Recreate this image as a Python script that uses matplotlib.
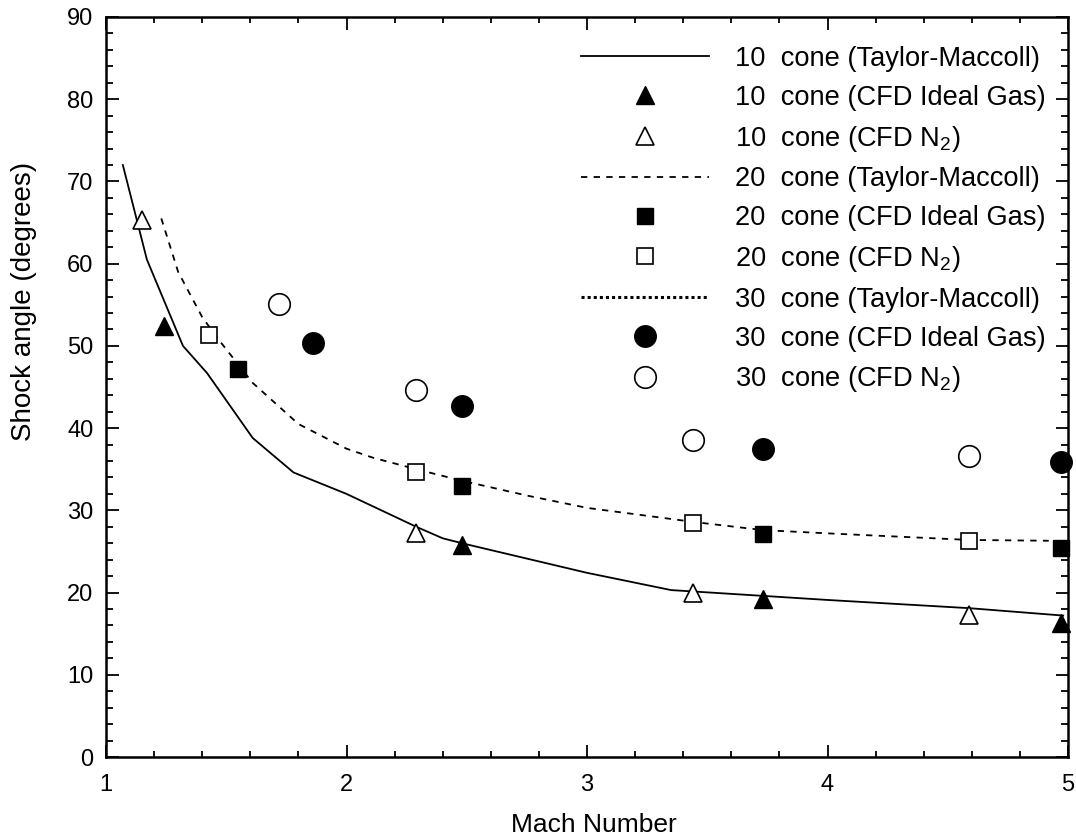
import matplotlib
matplotlib.use("Agg")
import matplotlib.pyplot as plt
from matplotlib.ticker import MultipleLocator

plt.rcParams['font.family'] = ['Liberation Sans', 'DejaVu Sans']
plt.rcParams['mathtext.fontset'] = 'custom'
plt.rcParams['mathtext.rm'] = 'Liberation Sans'
plt.rcParams['mathtext.it'] = 'Liberation Sans'

# Taylor-Maccoll curves
mach_tm10 = [1.07, 1.17, 1.32, 1.42, 1.61, 1.78, 2.0, 2.29, 2.40, 2.48, 3.0, 3.35, 3.73, 4.0, 4.59, 4.98]
theta_tm10 = [72.0, 60.5, 50.0, 46.7, 38.8, 34.6, 32.0, 28.0, 26.6, 26.0, 22.4, 20.3, 19.6, 19.1, 18.1, 17.2]
mach_tm20 = [1.23, 1.30, 1.40, 1.47, 1.61, 1.80, 2.0, 2.11, 2.29, 2.48, 2.75, 3.0, 3.44, 3.73, 4.0, 4.59, 4.92]
theta_tm20 = [65.5, 59.0, 53.5, 50.7, 45.5, 40.5, 37.5, 36.4, 35.0, 33.6, 31.8, 30.3, 28.6, 27.6, 27.2, 26.4, 26.3]
mach_tm30 = []
theta_tm30 = []

# CFD results
mach_ideal = [1.24, 2.48, 3.73, 4.97]
mach_n2 = [1.15, 2.29, 3.44, 4.59]
mach_sq_ideal = [1.55, 2.48, 3.73, 4.97]
mach_sq_n2 = [1.43, 2.29, 3.44, 4.59]
mach_c_ideal = [1.86, 2.48, 3.73, 4.97]
mach_c_n2 = [1.72, 2.29, 3.44, 4.59]
theta10_ideal = [52.4, 25.8, 19.2, 16.3]
theta10_n2 = [65.3, 27.3, 20.0, 17.3]
theta20_ideal = [47.2, 33.0, 27.1, 25.4]
theta20_n2 = [51.3, 34.7, 28.4, 26.3]
theta30_ideal = [50.3, 42.7, 37.5, 35.9]
theta30_n2 = [55.1, 44.6, 38.5, 36.6]

labels = [
    "10  cone (Taylor-Maccoll)",
    "10  cone (CFD Ideal Gas)",
    "10  cone (CFD N$_2$)",
    "20  cone (Taylor-Maccoll)",
    "20  cone (CFD Ideal Gas)",
    "20  cone (CFD N$_2$)",
    "30  cone (Taylor-Maccoll)",
    "30  cone (CFD Ideal Gas)",
    "30  cone (CFD N$_2$)",
]

fig = plt.figure(figsize=(10.76, 8.40), dpi=100)
ax = fig.add_axes([106/1076, 1-757/840, (1068-106)/1076, (757-17)/840])

k = dict(clip_on=False, zorder=3, linestyle='none')
ax.plot(mach_tm10, theta_tm10, '-', color='black', lw=1.3, label=labels[0])
ax.plot(mach_ideal, theta10_ideal, marker='^', ms=12.5, mfc='black', mec='black', label=labels[1], **k)
ax.plot(mach_n2, theta10_n2, marker='^', ms=12.5, mfc='white', mec='black', mew=1.2, label=labels[2], **k)
ax.plot(mach_tm20, theta_tm20, color='black', lw=1.3, linestyle=(0, (3.5, 3.5)), label=labels[3])
ax.plot(mach_sq_ideal, theta20_ideal, marker='s', ms=11.5, mfc='black', mec='black', label=labels[4], **k)
ax.plot(mach_sq_n2, theta20_n2, marker='s', ms=11.5, mfc='white', mec='black', mew=1.2, label=labels[5], **k)
ax.plot(mach_tm30, theta_tm30, color='black', lw=2.2, linestyle=(0, (1, 1)), label=labels[6])
ax.plot(mach_c_ideal, theta30_ideal, marker='o', ms=15.5, mfc='black', mec='black', label=labels[7], **k)
ax.plot(mach_c_n2, theta30_n2, marker='o', ms=15.5, mfc='white', mec='black', mew=1.2, label=labels[8], **k)

ax.set_xlim(1, 5)
ax.set_ylim(0, 90)
ax.xaxis.set_major_locator(MultipleLocator(1))
ax.xaxis.set_minor_locator(MultipleLocator(0.2))
ax.yaxis.set_major_locator(MultipleLocator(10))
ax.yaxis.set_minor_locator(MultipleLocator(2))
ax.tick_params(which='both', direction='in', top=True, right=True, width=1.3)
ax.tick_params(which='major', length=9, labelsize=17)
ax.tick_params(axis='y', which='minor', length=5)
ax.tick_params(axis='x', which='minor', length=4)
ax.tick_params(axis='x', which='major', pad=12)
ax.tick_params(axis='y', which='major', pad=9)
for s in ax.spines.values():
    s.set_linewidth(1.8)

ax.set_xlabel("Mach Number", fontsize=19)
ax.set_ylabel("Shock angle (degrees)", fontsize=20)
ax.xaxis.set_label_coords(0.507, -0.075)
ax.yaxis.set_label_coords(-0.072, 0.615)

ax.legend(loc='upper left', bbox_to_anchor=(581/1076, 1-46/840),
          bbox_transform=fig.transFigure, frameon=False, fontsize=19.6,
          handlelength=4.7, handletextpad=0.95, labelspacing=0.47,
          borderpad=0, borderaxespad=0, numpoints=1)

fig.savefig("out.png", dpi=100)
